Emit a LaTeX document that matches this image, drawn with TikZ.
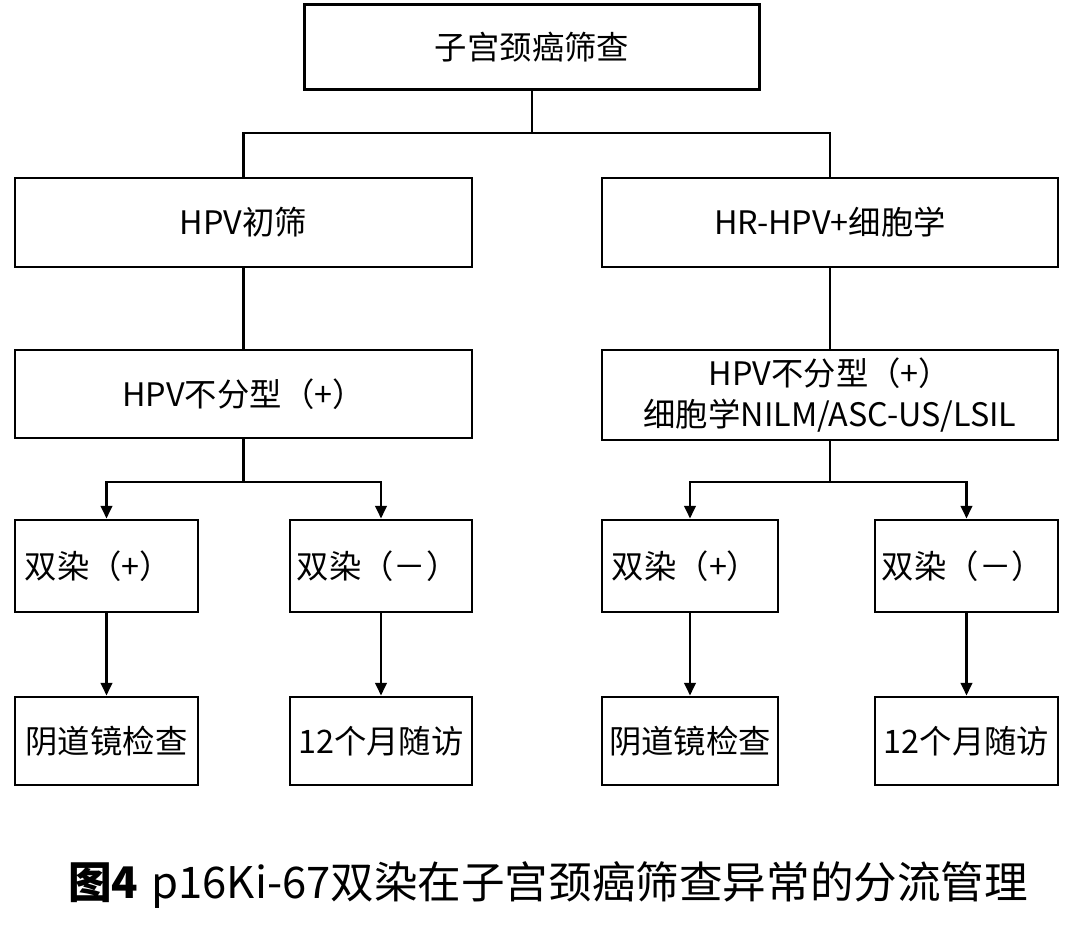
\documentclass[tikz,border=0pt]{standalone}
\usepackage{fontspec}
\setmainfont{Noto Sans CJK SC}
\usetikzlibrary{arrows.meta}
\begin{document}
\begin{tikzpicture}[x=0.025cm,y=-0.025cm,
 box/.style={draw,line width=2pt,inner sep=0pt,font=\fontsize{23}{29}\selectfont,align=center},
 lbl/.style={font=\fontsize{23}{29}\selectfont,anchor=west},
 ln/.style={line width=2pt},
 ar/.style={line width=2pt,-{Triangle[length=9pt,width=8pt]}}]
\useasboundingbox (0,0) rectangle (1080,939);
\node[box,minimum width=455*0.025cm,minimum height=85*0.025cm] (top) at (532,47) {子宫颈癌筛查};
\node[box,minimum width=457*0.025cm,minimum height=89*0.025cm] (a) at (243.5,222.5) {HPV初筛};
\node[box,minimum width=456*0.025cm,minimum height=89*0.025cm] (b) at (830,222.5) {HR-HPV+细胞学};
\node[box,minimum width=457*0.025cm,minimum height=88*0.025cm] (c) at (243.5,394) {HPV不分型（+）};
\node[box,minimum width=456*0.025cm,minimum height=90*0.025cm] (d) at (830,395) {HPV不分型（+）\\细胞学NILM/ASC-US/LSIL};
\foreach \n/\x/\w in {e1/106.5/183, e2/381/182, e3/690/176, e4/966.5/183}{
  \node[box,minimum width=\w*0.025cm,minimum height=92*0.025cm] (\n) at (\x,566) {};
}
\node[lbl] at (20,566) {双染（+）};
\node[lbl] at (292,566) {双染（－）};
\node[lbl] at (607,566) {双染（+）};
\node[lbl] at (877,566) {双染（－）};
\node[box,minimum width=183*0.025cm,minimum height=88*0.025cm] (f1) at (106.5,741) {阴道镜检查};
\node[box,minimum width=182*0.025cm,minimum height=88*0.025cm] (f2) at (381,741) {12个月随访};
\node[box,minimum width=176*0.025cm,minimum height=88*0.025cm] (f3) at (690,741) {阴道镜检查};
\node[box,minimum width=183*0.025cm,minimum height=88*0.025cm] (f4) at (966.5,741) {12个月随访};
\coordinate (j0) at (532,133);
\draw[ln] (top.south) -- (j0);
\draw[ln] (a.north) -- (a.north|-j0) -- (b.north|-j0) -- (b.north);
\draw[ln] (a) -- (c);
\draw[ln] (b) -- (d);
\coordinate (jl) at (243.5,482);
\coordinate (jr) at (830,482);
\draw[ln] (c.south) -- (jl);
\draw[ln] (d.south) -- (jr);
\draw[ar] (jl) -- (e1.north|-jl) -- (e1.north);
\draw[ar] (jl) -- (e2.north|-jl) -- (e2.north);
\draw[ar] (jr) -- (e3.north|-jr) -- (e3.north);
\draw[ar] (jr) -- (e4.north|-jr) -- (e4.north);
\foreach \i in {1,2,3,4}{\draw[ar] (e\i) -- (f\i);}
\node[anchor=west,font=\fontsize{31}{36}\selectfont,inner sep=0pt] (cap) at (68,885) {\textbf{图4}\hspace{0.3em}p16Ki-67双染在子宫颈癌筛查异常的分流管理};
\end{tikzpicture}
\end{document}
